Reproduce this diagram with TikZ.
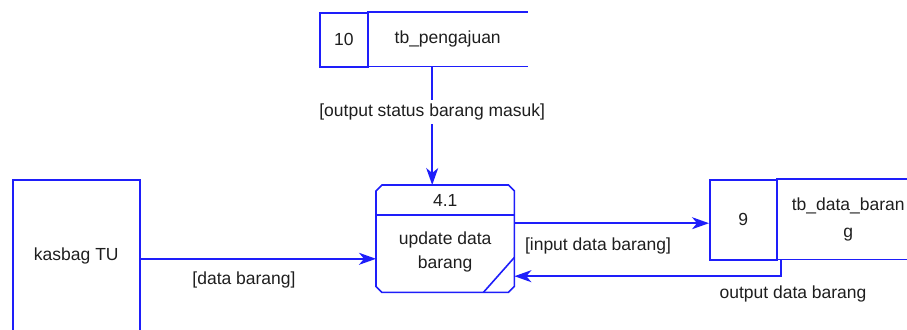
\documentclass[tikz,border=0pt]{standalone}
\usepackage{fontspec}
\setmainfont{Liberation Sans}
\usetikzlibrary{arrows.meta,calc}
\definecolor{dfdblue}{RGB}{30,30,250}
\definecolor{dfdtext}{RGB}{30,30,30}
\begin{document}
\begin{tikzpicture}[x=1bp,y=-1bp,
  line/.style={draw=dfdblue,line width=1.6bp},
  flow/.style={line,-{Stealth[length=17bp,width=12bp,inset=5bp]}},
  txt/.style={font=\fontsize{17.5bp}{22bp}\selectfont,text=dfdtext,inner sep=0pt},
  box/.style={inner sep=0pt,anchor=north west}]
\useasboundingbox (0,0) rectangle (907,329);
\clip (0,0) rectangle (907,329);

% data store 10
\node[box,line,txt,minimum width=48bp,minimum height=54bp] (s10id) at (319,12) {10};
\node[box,txt,minimum width=161bp,minimum height=54bp] (s10name) at (367,12) {tb\_pengajuan};
\draw[line] (s10name.north west) -- (s10name.north east)
            (s10name.south west) -- (s10name.south east);

% process 4.1
\node[box,minimum width=138bp,minimum height=107bp] (proc) at (376,185) {};
\draw[line] ([xshift=6bp]proc.north west) -- ([xshift=-6bp]proc.north east)
  -- ([yshift=-6bp]proc.north east) -- ([yshift=6bp]proc.south east)
  -- ([xshift=-6bp]proc.south east) -- ([xshift=6bp]proc.south west)
  -- ([yshift=6bp]proc.south west) -- ([yshift=-6bp]proc.north west) -- cycle;
\draw[line] ([yshift=-30bp]proc.north west) -- ([yshift=-30bp]proc.north east);
\draw[line] ([xshift=-31bp]proc.south east) -- ([yshift=35bp]proc.south east);
\node[txt] (pid) at ($(proc.north)+(0,15.5)$) {4.1};
\node[txt,align=center,font=\fontsize{17.5bp}{24bp}\selectfont] (pname) at ($(proc.north)+(0,67)$) {update data\\barang};

% data store 9
\node[box,line,txt,minimum width=67bp,minimum height=80bp] (s9id) at (709,179) {9};
\node[box,txt,minimum width=144bp,minimum height=80bp,align=center,font=\fontsize{17.5bp}{27bp}\selectfont] (s9name) at (776,179) {tb\_data\_baran\\g};
\draw[line] (s9name.north west) -- (s9name.north east)
            (s9name.south west) -- (s9name.south east);

% external entity
\node[box,line,txt,minimum width=127bp,minimum height=152bp] (kas) at (12,179) {kasbag TU};

% flows
\coordinate (v1) at ([xshift=-15.5bp]s10name.south);
\draw[flow] (v1) -- (v1 |- proc.north)
  node[pos=0.387,txt,fill=white,inner ysep=4bp,inner xsep=1bp] (l1) {[output status barang masuk]};

\coordinate (k1) at ([yshift=-3bp]kas.east);
\draw[flow] (k1) -- (k1 -| proc.west);
\node[txt] (l2) at (244,280) {[data barang]};

\coordinate (i1) at ([yshift=15.5bp]proc.east);
\draw[flow] (i1) -- (i1 -| s9id.west);
\node[txt] (l3) at (598,246) {[input data barang]};

\coordinate (o1) at ([xshift=5bp]s9name.south west);
\coordinate (o2) at ([yshift=-37.5bp]proc.east);
\draw[flow] (o1) |- (o2);
\node[txt] (l4) at (793,294) {output data barang};
\end{tikzpicture}
\end{document}
